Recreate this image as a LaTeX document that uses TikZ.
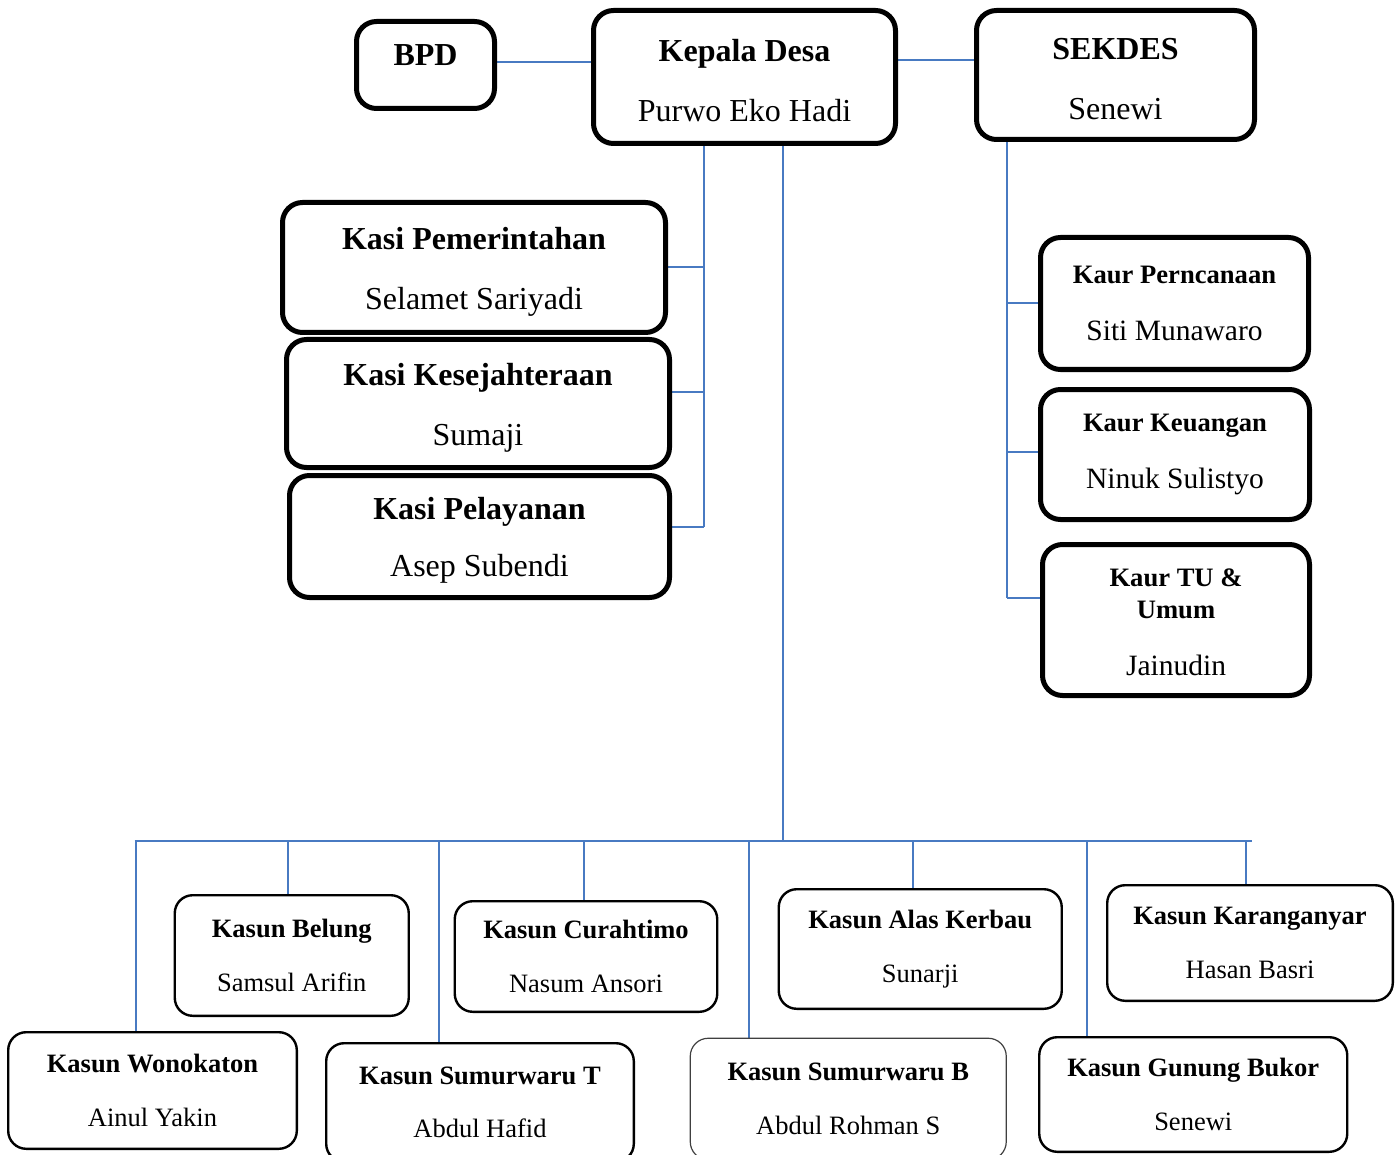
\documentclass[tikz,border=0pt]{standalone}
\usepackage{fontspec}
\setmainfont{Liberation Serif}
\usetikzlibrary{backgrounds}
\definecolor{linkblue}{RGB}{72,122,194}
\newcommand{\kaurname}{\fontsize{14.75}{28.5}\selectfont}
\newcommand{\hd}[1]{\textbf{#1}\rule{0pt}{15pt}}

\begin{document}
\begin{tikzpicture}[x=0.5pt, y=-0.5pt,
  topbox/.style={draw, line width=2.5pt, rounded corners=10pt, align=center, inner sep=0pt, font=\fontsize{16}{30}\selectfont},
  kaurbox/.style={topbox, font=\fontsize{13.3}{28.5}\selectfont},
  kasunbox/.style={draw, line width=1.2pt, rounded corners=9pt, align=center, inner sep=0pt, font=\fontsize{13.25}{26.75}\selectfont},
  orgline/.style={draw=linkblue, line width=1pt}]
\useasboundingbox (0,0) rectangle (1398,1155);
% top row
\node (bpd) [topbox, minimum width=69pt, minimum height=43.5pt, text depth=9.6pt] at (425.5,65) {\textbf{BPD}};
\node (kades) [topbox, minimum width=151pt, minimum height=66.5pt] at (744.5,77) {\hd{Kepala Desa}\\Purwo Eko Hadi};
\node (sekdes) [topbox, minimum width=139pt, minimum height=64.5pt] at (1115.5,75) {\hd{SEKDES}\\Senewi};
% kasi
\node (kasi1) [topbox, minimum width=191.5pt, minimum height=65pt] at (474,267.5) {\hd{Kasi Pemerintahan}\\Selamet Sariyadi};
\node (kasi2) [topbox, minimum width=191.5pt, minimum height=64pt] at (478,403.5) {\hd{Kasi Kesejahteraan}\\Sumaji};
\node (kasi3) [topbox, minimum width=190pt, minimum height=61pt] at (479.5,536.5) {\hd{Kasi Pelayanan}\\[-1.5pt]Asep Subendi};
% kaur
\node (kaur1) [kaurbox, minimum width=134pt, minimum height=66pt] at (1174.5,303.5) {\textbf{Kaur Perncanaan}\\{\kaurname Siti Munawaro}};
\node (kaur2) [kaurbox, minimum width=134.5pt, minimum height=65pt] at (1175,454.5) {\textbf{Kaur Keuangan}\\{\kaurname Ninuk Sulistyo}};
\node (kaur3) [kaurbox, minimum width=133.5pt, minimum height=75.5pt] at (1176,620) {\textbf{Kaur TU \&}\rule{0pt}{11pt}\\[-12.5pt]\textbf{Umum}\\{\kaurname Jainudin}};
% kasun
\node (belung) [kasunbox, minimum width=117pt, minimum height=60.3pt] at (291.75,955.5) {\textbf{Kasun Belung}\\Samsul Arifin};
\node (curah) [kasunbox, minimum width=131.25pt, minimum height=55.3pt] at (586,956.5) {\textbf{Kasun Curahtimo}\\Nasum Ansori};
\node (alas) [kasunbox, minimum width=141.5pt, minimum height=59.8pt] at (920.25,949) {\textbf{Kasun Alas Kerbau}\\Sunarji};
\node (karang) [kasunbox, minimum width=142.8pt, minimum height=57.8pt] at (1250,943) {\textbf{Kasun Karanganyar}\\Hasan Basri};
\node (wono) [kasunbox, minimum width=144.3pt, minimum height=58.3pt] at (152.5,1090.5) {\textbf{Kasun Wonokaton}\\Ainul Yakin};
\node (sumt) [kasunbox, minimum width=153.8pt, minimum height=59.3pt] at (480,1102.5) {\textbf{Kasun Sumurwaru T}\\Abdul Hafid};
\node (sumb) [kasunbox, draw=black!75, line width=0.6pt, minimum width=158pt, minimum height=60.75pt] at (848.25,1099) {\textbf{Kasun Sumurwaru B}\\Abdul Rohman S};
\node (gunung) [kasunbox, minimum width=154pt, minimum height=57.3pt] at (1193.25,1094.5) {\textbf{Kasun Gunung Bukor}\\Senewi};

\coordinate (kasibus) at (704,527);
\coordinate (kaurbus) at (1006.5,598);
\coordinate (bus) at (783,841);

\begin{scope}[on background layer]
  \draw [orgline] ([yshift=1.6pt]bpd.east) -- ([yshift=1.6pt]bpd.east -| kades.west);
  \draw [orgline] ([yshift=8.5pt]kades.east) -- ([yshift=8.5pt]kades.east -| sekdes.west);
  % kasi branch
  \draw [orgline] (kades.south -| kasibus) -- (kasibus);
  \draw [orgline] (kasi1.east) -- (kasi1.east -| kasibus);
  \draw [orgline] ([yshift=5.75pt]kasi2.east) -- ([yshift=5.75pt]kasi2.east -| kasibus);
  \draw [orgline] ([yshift=4.75pt]kasi3.east) -- (kasibus);
  % kaur branch
  \draw [orgline] (sekdes.south -| kaurbus) -- (kaurbus);
  \draw [orgline] (kaurbus |- kaur1.west) -- (kaur1.west);
  \draw [orgline] ([yshift=1.25pt]kaur2.west -| kaurbus) -- ([yshift=1.25pt]kaur2.west);
  \draw [orgline] (kaurbus) -- ([yshift=11pt]kaur3.west);
  % kasun branch
  \draw [orgline] (kades.south -| bus) -- (bus);
  \draw [orgline] ([xshift=-9pt]wono.north |- bus) -- ([xshift=1pt]karang.north |- bus);
  \foreach \n/\s in {wono/-8.25, belung/-1.9, sumt/-20.75, curah/-1, sumb/-49.75, alas/-3.8, gunung/-53.1, karang/-2}
    \draw [orgline] ([xshift=\s pt]\n.north |- bus) -- ([xshift=\s pt]\n.north);
\end{scope}
\end{tikzpicture}
\end{document}
